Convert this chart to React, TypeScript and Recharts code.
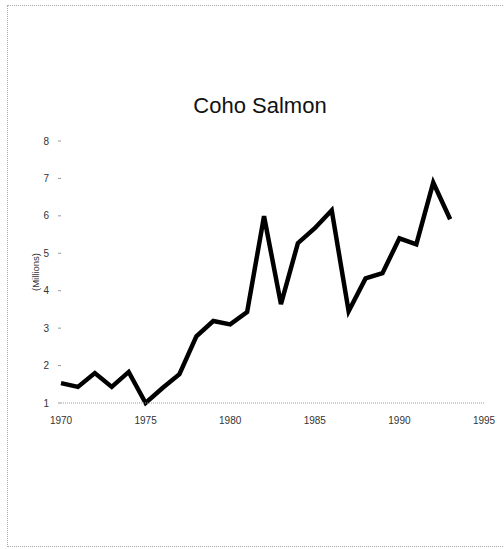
import { Line, LineChart, XAxis, YAxis } from "recharts";

const years = [
  1970, 1971, 1972, 1973, 1974, 1975, 1976, 1977, 1978, 1979, 1980, 1981,
  1982, 1983, 1984, 1985, 1986, 1987, 1988, 1989, 1990, 1991, 1992, 1993,
];
const catches = [
  1.53, 1.43, 1.8, 1.43, 1.83, 1.0, 1.4, 1.77, 2.78, 3.19, 3.1, 3.43,
  5.99, 3.64, 5.27, 5.67, 6.15, 3.45, 4.33, 4.47, 5.4, 5.24, 6.89, 5.91,
];
const xTicks = [1970, 1975, 1980, 1985, 1990, 1995];
const yTicks = [1, 2, 3, 4, 5, 6, 7, 8];

const data = years.map((year, i) => ({ year, value: catches[i] }));

const font = "'Liberation Sans', Arial, sans-serif";

export default function App() {
  return (
    <div
      style={{
        position: "absolute",
        left: 0,
        top: 0,
        width: 504,
        height: 549,
        background: "white",
        fontFamily: font,
      }}
    >
      <div
        style={{
          position: "absolute",
          left: 7,
          top: 5,
          width: 495,
          height: 540,
          borderTop: "1px dotted #aaa",
          borderLeft: "1px dotted #aaa",
          borderBottom: "1px dotted #aaa",
        }}
      />
      <div
        style={{
          position: "absolute",
          left: 0,
          top: 93,
          width: 520,
          textAlign: "center",
          fontSize: 22,
          color: "#111",
        }}
      >
        Coho Salmon
      </div>
      <LineChart
        width={504}
        height={549}
        data={data}
        margin={{ top: 141, right: 20, left: 0, bottom: 116 }}
        style={{ position: "absolute", left: 0, top: 0 }}
      >
        <XAxis
          type="number"
          dataKey="year"
          domain={[1970, 1995]}
          ticks={xTicks}
          height={30}
          stroke="#999"
          strokeDasharray="1 1"
          tickLine={false}
          tickMargin={8}
          tick={{ fontSize: 10, fill: "#333", fontFamily: font }}
        />
        <YAxis
          type="number"
          domain={[1, 8]}
          ticks={yTicks}
          width={61}
          axisLine={false}
          tickSize={3}
          tickMargin={9}
          tickLine={{ stroke: "#999" }}
          tick={{ fontSize: 10, fill: "#333", fontFamily: font }}
          label={{
            value: "(Millions)",
            angle: -90,
            position: "insideLeft",
            offset: 36,
            style: { textAnchor: "middle", fontSize: 9.5, fill: "#333", fontFamily: font },
          }}
        />
        <Line
          type="linear"
          dataKey="value"
          stroke="#000"
          strokeWidth={4.5}
          strokeLinejoin="miter"
          dot={false}
          isAnimationActive={false}
        />
      </LineChart>
    </div>
  );
}
